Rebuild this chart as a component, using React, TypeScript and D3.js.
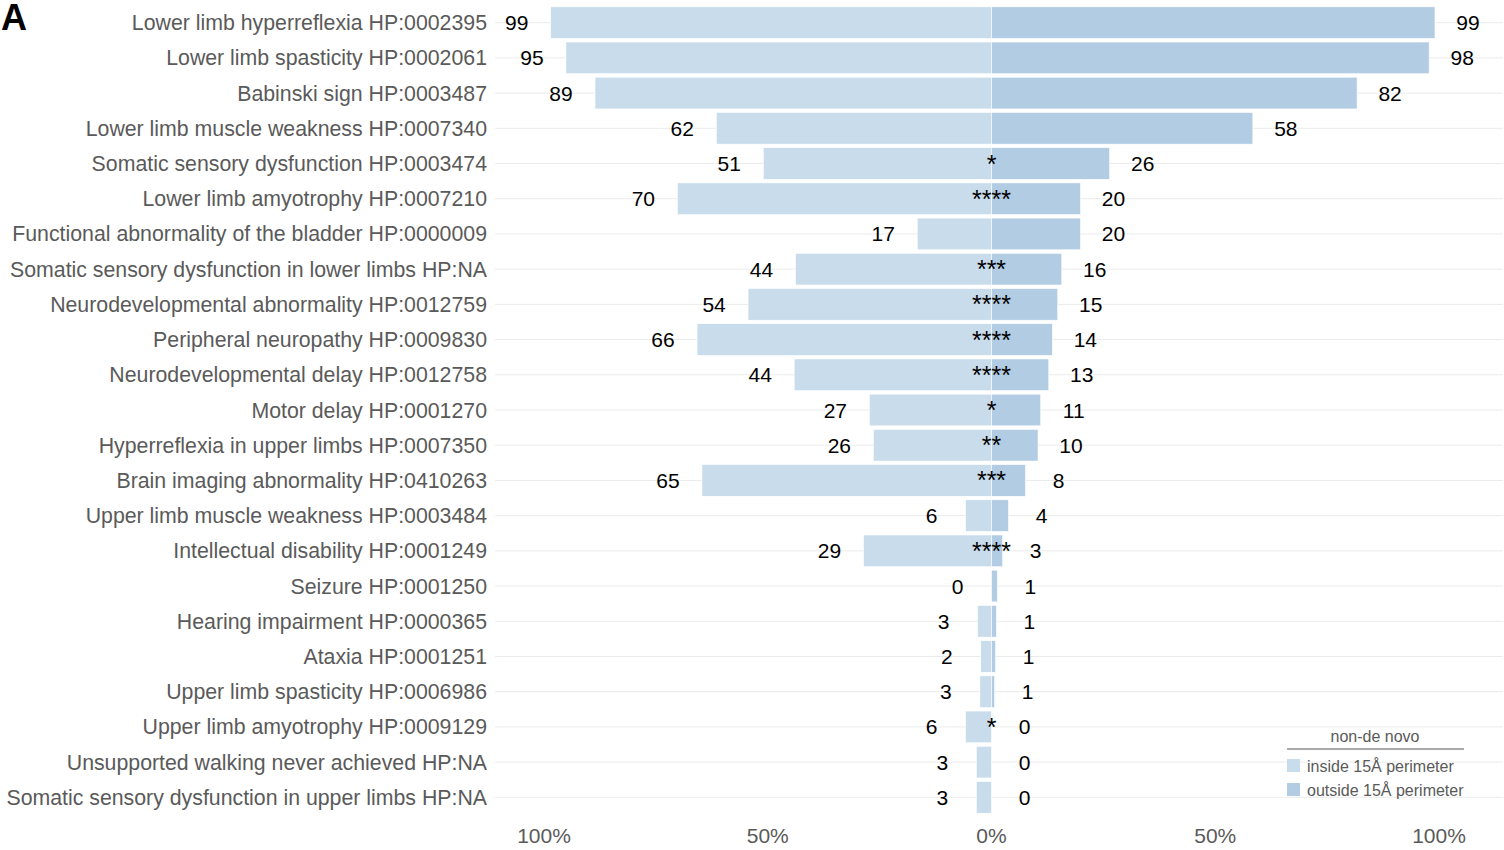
import React from 'react';
import * as d3 from 'd3';

const CATEGORIES = [
  'Lower limb hyperreflexia HP:0002395',
  'Lower limb spasticity HP:0002061',
  'Babinski sign HP:0003487',
  'Lower limb muscle weakness HP:0007340',
  'Somatic sensory dysfunction HP:0003474',
  'Lower limb amyotrophy HP:0007210',
  'Functional abnormality of the bladder HP:0000009',
  'Somatic sensory dysfunction in lower limbs HP:NA',
  'Neurodevelopmental abnormality HP:0012759',
  'Peripheral neuropathy HP:0009830',
  'Neurodevelopmental delay HP:0012758',
  'Motor delay HP:0001270',
  'Hyperreflexia in upper limbs HP:0007350',
  'Brain imaging abnormality HP:0410263',
  'Upper limb muscle weakness HP:0003484',
  'Intellectual disability HP:0001249',
  'Seizure HP:0001250',
  'Hearing impairment HP:0000365',
  'Ataxia HP:0001251',
  'Upper limb spasticity HP:0006986',
  'Upper limb amyotrophy HP:0009129',
  'Unsupported walking never achieved HP:NA',
  'Somatic sensory dysfunction in upper limbs HP:NA',
];

// % of patients, inside 15Å perimeter (left side)
const INSIDE = [98.5, 95.1, 88.6, 61.5, 51.0, 70.2, 16.6, 43.8, 54.4, 65.8, 44.1, 27.3, 26.4, 64.7, 5.8, 28.6, 0, 3.1, 2.4, 2.6, 5.8, 3.4, 3.4];
// % of patients, outside 15Å perimeter (right side)
const OUTSIDE = [99.1, 97.8, 81.7, 58.4, 26.4, 19.9, 19.9, 15.7, 14.8, 13.6, 12.8, 11.0, 10.4, 7.6, 3.8, 2.5, 1.3, 1.1, 0.9, 0.7, 0, 0, 0];
const STARS = ['', '', '', '', '*', '****', '', '***', '****', '****', '****', '*', '**', '***', '', '****', '', '', '', '', '*', '', ''];

const TICKS = [-100, -50, 0, 50, 100];

const COL_IN = '#c9dcec';
const COL_OUT = '#b2cce3';
const W = 1504, H = 850;

export default function App() {
  const x = d3.scaleLinear().domain([-100, 100]).range([544, 1439]);
  const y = d3.scaleBand<number>()
    .domain(d3.range(CATEGORIES.length))
    .range([3.3, 816.7])
    .padding(0.1);
  const bw = y.bandwidth();
  const cy = (i: number) => (y(i) as number) + bw / 2;

  return (
    <svg width={W} height={H} style={{ position: 'absolute', left: 0, top: 0, background: '#fff' }}
      fontFamily="'Liberation Sans', Arial, sans-serif">
      {/* grid lines */}
      {CATEGORIES.map((c, i) => (
        <line key={'g' + i} x1={495} x2={1503} y1={cy(i)} y2={cy(i)} stroke="#ebebeb" strokeWidth={1} />
      ))}
      {/* bars */}
      {CATEGORIES.map((c, i) => (
        <g key={'b' + i}>
          {INSIDE[i] > 0 && (
            <rect x={x(-INSIDE[i])} y={y(i)} width={x(0) - x(-INSIDE[i])} height={bw}
              fill={COL_IN} stroke="#fff" strokeWidth={0.6} />
          )}
          {OUTSIDE[i] > 0 && (
            <rect x={x(0)} y={y(i)} width={x(OUTSIDE[i]) - x(0)} height={bw}
              fill={COL_OUT} stroke="#fff" strokeWidth={0.6} />
          )}
        </g>
      ))}
      {/* value labels */}
      {CATEGORIES.map((c, i) => (
        <g key={'v' + i} fontSize={21} fill="#000" textAnchor="middle">
          <text x={x(-INSIDE[i]) - 34} y={cy(i) + 7.5}>{Math.round(INSIDE[i])}</text>
          <text x={x(OUTSIDE[i]) + 33} y={cy(i) + 7.5}>{Math.round(OUTSIDE[i])}</text>
          {STARS[i] && <text x={x(0)} y={cy(i) + 9} fontSize={25}>{STARS[i]}</text>}
        </g>
      ))}
      {/* category labels */}
      {CATEGORIES.map((c, i) => (
        <text key={'c' + i} x={487} y={cy(i) + 7.5} textAnchor="end" fontSize={21.3} fill="#5a5a5a">{c}</text>
      ))}
      {/* x axis */}
      {TICKS.map(t => (
        <text key={'t' + t} x={x(t)} y={843} textAnchor="middle" fontSize={21} fill="#5a5a5a">
          {Math.abs(t) + '%'}
        </text>
      ))}
      {/* legend */}
      <g fontSize={16} fill="#5a5a5a">
        <text x={1375} y={742} textAnchor="middle">non-de novo</text>
        <line x1={1287} x2={1464} y1={749} y2={749} stroke="#555" strokeWidth={1} />
        <rect x={1287} y={759} width={13} height={13} fill={COL_IN} />
        <text x={1307} y={772}>inside 15Å perimeter</text>
        <rect x={1287} y={783} width={13} height={13} fill={COL_OUT} />
        <text x={1307} y={796}>outside 15Å perimeter</text>
      </g>
      <text x={1} y={30} fontSize={36} fontWeight="bold" fill="#000">A</text>
    </svg>
  );
}
